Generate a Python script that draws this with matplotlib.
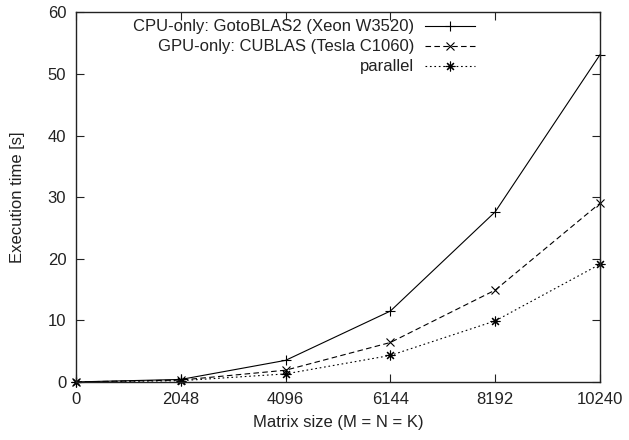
import numpy as np
import matplotlib.pyplot as plt

plt.rcParams['font.family'] = ['Liberation Sans', 'DejaVu Sans']
plt.rcParams['font.size'] = 12

sizes = [0, 2048, 4096, 6144, 8192, 10240]
cpu_only = [0, 0.4, 3.5, 11.5, 27.6, 53.1]
gpu_only = [0, 0.3, 1.9, 6.4, 14.9, 29.0]
parallel = [0, 0.2, 1.3, 4.3, 9.9, 19.1]

labels = ["CPU-only: GotoBLAS2 (Xeon W3520)",
          "GPU-only: CUBLAS (Tesla C1060)",
          "parallel"]

fig = plt.figure(figsize=(6.29, 4.4), dpi=100)
ax = fig.add_axes([0.1208, 0.132, 0.833, 0.840])

ax.plot(sizes, cpu_only, color="black", lw=0.8, marker="+", ms=7, mew=0.8,
        label=labels[0], clip_on=False)
ax.plot(sizes, gpu_only, color="black", lw=0.8, ls=(0, (5, 3)), marker="x", ms=6,
        mew=0.8, label=labels[1], clip_on=False)
ax.plot(sizes, parallel, color="black", lw=0.8, ls=(0, (1.5, 2.5)), marker=(8, 2, 0),
        ms=7, mew=0.8, label=labels[2], clip_on=False)

ax.set_xlim(0, 10240)
ax.set_ylim(0, 60)
ax.set_xticks(sizes)
ax.set_yticks(np.arange(0, 61, 10))
ax.tick_params(direction="in", top=True, right=True, length=6, width=0.8, pad=7,
               colors="#222222", labelcolor="#222222")
for s in ax.spines.values():
    s.set_linewidth(1.0)
    s.set_color("#222222")

ax.set_xlabel("Matrix size (M = N = K)", labelpad=6, color="#222222")
ax.set_ylabel("Execution time [s]", labelpad=16, color="#222222")

leg = ax.legend(loc="upper right", bbox_to_anchor=(0.765, 0.971), bbox_transform=fig.transFigure,
                frameon=False, markerfirst=False, handlelength=3.0, handletextpad=0.6,
                labelspacing=0.3, borderaxespad=0)
for t in leg.get_texts():
    t.set_color("#222222")

fig.savefig("out.png", dpi=100)
